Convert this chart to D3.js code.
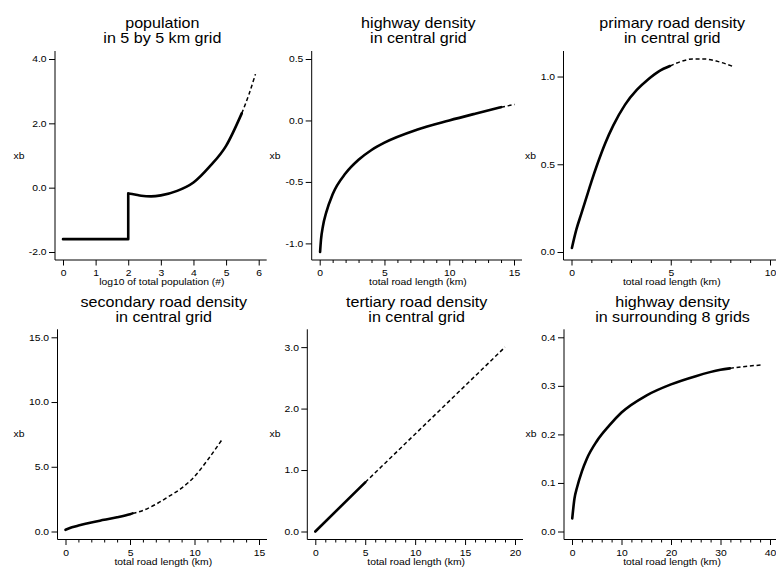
<!DOCTYPE html>
<html>
<head>
<meta charset="utf-8">
<script src="https://cdn.jsdelivr.net/npm/d3@7"></script>
<style>
  body { margin: 0; background: #fff; }
  text { font-family: "Liberation Sans", Arial, sans-serif; fill: #000; }
</style>
</head>
<body>
<script>
// values
const titles = [
  ["population", "in 5 by 5 km grid"],
  ["highway density", "in central grid"],
  ["primary road density", "in central grid"],
  ["secondary road density", "in central grid"],
  ["tertiary road density", "in central grid"],
  ["highway density", "in surrounding 8 grids"]
];
const xLabels = ["log10 of total population (#)", "total road length (km)", "total road length (km)",
  "total road length (km)", "total road length (km)", "total road length (km)"];
const yLabel = "xb";

const xTicks = [[0, 1, 2, 3, 4, 5, 6], [0, 5, 10, 15], [0, 5, 10], [0, 5, 10, 15], [0, 5, 10, 15, 20], [0, 10, 20, 30, 40]];
const xMinor = [[], d3.range(0, 16, 1), d3.range(0, 11, 1), d3.range(0, 16, 1), d3.range(0, 21, 1), d3.range(0, 41, 2)];
const yTicks = [[-2, 0, 2, 4], [-1, -0.5, 0, 0.5], [0, 0.5, 1], [0, 5, 10, 15], [0, 1, 2, 3], [0, 0.1, 0.2, 0.3, 0.4]];
const xDomains = [[0, 6], [0, 15], [0, 10], [0, 15], [0, 20], [0, 40]];
const yDomains = [[-2, 4], [-1.07, 0.5], [0, 1.1], [0, 15], [0, 3.16], [0, 0.4]];

// population
const popStepX = [0, 2, 2];
const popStepY = [-1.6, -1.6, -0.18];
const popSolidX = [2, 2.2, 2.4, 2.7, 3.0, 3.5, 4.0, 4.5, 5.0, 5.48];
const popSolidY = [-0.18, -0.21, -0.25, -0.27, -0.24, -0.1, 0.16, 0.66, 1.3, 2.31];
const popDashX = [5.48, 5.7, 5.9];
const popDashY = [2.31, 2.9, 3.53];

// highway, central grid
const hwySolidX = [0.03, 0.1, 0.25, 0.5, 1, 2, 3, 4, 5, 7.5, 10, 12, 14];
const hwySolidY = [-1.07, -0.97, -0.86, -0.75, -0.6, -0.43, -0.32, -0.24, -0.18, -0.075, 0.0, 0.055, 0.108];
const hwyDashX = [14, 15.05];
const hwyDashY = [0.108, 0.13];

// primary road
const priSolidX = [0.02, 0.25, 0.5, 0.75, 1.0, 1.3, 1.7, 2.1, 2.7, 3.3, 3.87, 4.4, 4.96];
const priSolidY = [0.023, 0.13, 0.22, 0.31, 0.40, 0.50, 0.62, 0.72, 0.84, 0.925, 0.985, 1.03, 1.06];
const priDashX = [4.96, 5.5, 6.1, 6.7, 7.4, 8.15];
const priDashY = [1.06, 1.085, 1.10, 1.10, 1.085, 1.057];

// secondary road
const secSolidX = [0, 0.5, 1, 2, 3, 4, 5, 5.2];
const secSolidY = [0.13, 0.32, 0.46, 0.7, 0.9, 1.1, 1.34, 1.4];
const secDashX = [5.2, 6, 7, 8, 9, 10, 11, 12.2];
const secDashY = [1.4, 1.62, 2.1, 2.7, 3.35, 4.25, 5.5, 7.2];

// tertiary road
const terSolidX = [0, 5];
const terSolidY = [0, 0.8];
const terDashX = [5, 19];
const terDashY = [0.8, 3.0];

// highway, surrounding grids
const surSolidX = [0.05, 0.5, 1, 2, 3, 5, 7.5, 10, 15, 20, 25, 30, 31.9];
const surSolidY = [0.027, 0.068, 0.09, 0.124, 0.15, 0.186, 0.218, 0.245, 0.28, 0.303, 0.32, 0.333, 0.336];
const surDashX = [31.9, 35, 38.4];
const surDashY = [0.336, 0.34, 0.343];

const W = 776, H = 569;
const SX = 1.15; // text looks slightly stretched sideways

// panel boxes: left/right/top/bottom of the axis lines, x of the "xb" label
const boxes = [
  {l: 55, r: 266.7, t: 51, b: 260, yl: 19},
  {l: 311.7, r: 522, t: 51, b: 260, yl: 275},
  {l: 563.5, r: 778, t: 51, b: 260, yl: 530.5},
  {l: 57.5, r: 267, t: 329.3, b: 539.5, yl: 19},
  {l: 307.3, r: 523, t: 329.3, b: 539.5, yl: 275},
  {l: 564, r: 778, t: 329.3, b: 539.5, yl: 531}
];

const series = [
  {solid: [[popStepX, popStepY, d3.curveLinear], [popSolidX, popSolidY]], dash: [popDashX, popDashY]},
  {solid: [[hwySolidX, hwySolidY]], dash: [hwyDashX, hwyDashY]},
  {solid: [[priSolidX, priSolidY]], dash: [priDashX, priDashY]},
  {solid: [[secSolidX, secSolidY]], dash: [secDashX, secDashY]},
  {solid: [[terSolidX, terSolidY]], dash: [terDashX, terDashY]},
  {solid: [[surSolidX, surSolidY]], dash: [surDashX, surDashY]}
];

const svg = d3.select("body").append("svg")
    .attr("width", W)
    .attr("height", H);

function label(g, x, y, str, size, anchor) {
  return g.append("text")
      .attr("transform", `translate(${x},${y}) scale(${SX},1)`)
      .attr("text-anchor", anchor || "middle")
      .attr("font-size", size)
      .text(str);
}

boxes.forEach((b, i) => {
  const g = svg.append("g");
  const x = d3.scaleLinear().domain(xDomains[i]).range([b.l + 8, b.r - 8]);
  const y = d3.scaleLinear().domain(yDomains[i]).range([b.b - 8, b.t + 8]);

  // axis lines
  g.append("line").attr("x1", b.l).attr("x2", b.r).attr("y1", b.b).attr("y2", b.b)
      .attr("stroke", "#000");
  g.append("line").attr("x1", b.l).attr("x2", b.l).attr("y1", b.t).attr("y2", b.b)
      .attr("stroke", "#000");

  // x axis
  g.append("g")
      .attr("transform", `translate(0,${b.b})`)
      .call(d3.axisBottom(x).tickValues(xTicks[i]).tickSize(5.5).tickPadding(4.5).tickFormat(d3.format("d")))
      .call(a => a.select(".domain").remove())
      .call(a => a.selectAll("text")
          .attr("font-size", 9)
          .attr("font-family", null)
          .attr("transform", `scale(${SX},1)`));
  if (xMinor[i].length) {
    g.append("g")
        .attr("transform", `translate(0,${b.b})`)
        .call(d3.axisBottom(x).tickValues(xMinor[i].filter(v => !xTicks[i].includes(v))).tickSize(3).tickFormat(""))
        .call(a => a.select(".domain").remove());
  }

  // y axis
  g.append("g")
      .attr("transform", `translate(${b.l},0)`)
      .call(d3.axisLeft(y).tickValues(yTicks[i]).tickSize(6).tickPadding(1.3).tickFormat(d => d.toFixed(1)))
      .call(a => a.select(".domain").remove())
      .call(a => a.selectAll("text")
          .attr("font-size", 9)
          .attr("font-family", null)
          .attr("transform", `scale(${SX},1)`));

  // titles and labels
  const cx = (b.l + b.r) / 2 + 1.5;
  label(g, cx, b.t - 22.7, titles[i][0], 14);
  label(g, cx, b.t - 7.7, titles[i][1], 14);
  label(g, cx - 0.5, b.b + 25.2, xLabels[i], 9);
  label(g, b.yl, (b.t + b.b) / 2 + 3, yLabel, 9);

  // fitted curves
  const s = series[i];
  s.solid.forEach(([xs, ys, curve]) => {
    g.append("path")
        .datum(d3.zip(xs, ys))
        .attr("fill", "none")
        .attr("stroke", "#000")
        .attr("stroke-width", 2.6)
        .attr("stroke-linecap", "round")
        .attr("stroke-linejoin", "round")
        .attr("d", d3.line().x(d => x(d[0])).y(d => y(d[1])).curve(curve || d3.curveMonotoneX));
  });
  g.append("path")
      .datum(d3.zip(s.dash[0], s.dash[1]))
      .attr("fill", "none")
      .attr("stroke", "#000")
      .attr("stroke-width", 1.5)
      .attr("stroke-dasharray", "4,2.7")
      .attr("d", d3.line().x(d => x(d[0])).y(d => y(d[1])).curve(d3.curveMonotoneX));
});
</script>
</body>
</html>
